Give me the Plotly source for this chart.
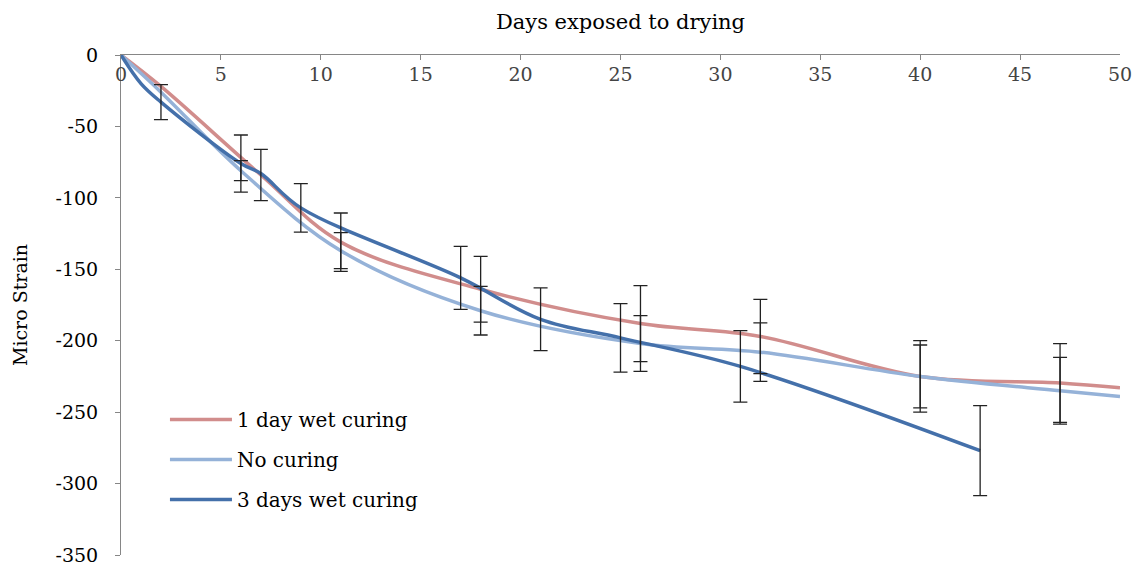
import plotly.graph_objects as go

# Shrinkage strain versus days of drying, for three curing regimes
days_1day = [0, 2, 7, 11, 18, 26, 32, 40, 47, 50]
strain_1day = [0, -22, -84, -131, -164, -188, -197, -225, -229.6, -233]
err_1day = [None, None, 18, 20.4, 23, 26.6, 26, 25, 27.6, None]

days_none = [0, 2, 6, 11, 18, 26, 32, 40, 47, 50]
strain_none = [0, -26, -81, -137, -179, -202, -208, -225, -235, -239]
err_none = [None, None, 7, 12.6, 17, 19.5, 20.5, 22, 23.4, None]

days_3day = [0, 1, 2, 6, 7, 9, 17, 21, 25, 31, 43]
strain_3day = [0, -20, -33, -76, -83, -107, -156, -185, -198, -218, -277]
err_3day = [None, None, 12.3, 20, None, 17, 22, 22, 24, 25, 31.5]

series = [
    ("1 day wet curing", days_1day, strain_1day, err_1day, "#D18D8C"),
    ("No curing", days_none, strain_none, err_none, "#95B2D8"),
    ("3 days wet curing", days_3day, strain_3day, err_3day, "#4470AA"),
]

x_ticks = list(range(0, 51, 5))
y_ticks = list(range(-350, 1, 50))

FONT = "DejaVu Serif"
AXIS_GREY = "#868686"

fig = go.Figure()

for name, xs, ys, _, color in series:
    fig.add_trace(go.Scatter(
        x=xs, y=ys, name=name, mode="lines",
        line=dict(color=color, width=3.5, shape="spline", smoothing=1.0),
        legendgroup=name, hoverinfo="skip",
    ))

# Error bars only where a standard deviation was recorded
for name, xs, ys, errs, _ in series:
    ex = [x for x, e in zip(xs, errs) if e is not None]
    ey = [y for y, e in zip(ys, errs) if e is not None]
    ee = [e for e in errs if e is not None]
    fig.add_trace(go.Scatter(
        x=ex, y=ey, mode="markers", showlegend=False, hoverinfo="skip",
        marker=dict(size=1, color="rgba(0,0,0,0)"),
        error_y=dict(type="data", array=ee, visible=True,
                     color="#222222", thickness=1.3, width=7),
    ))

fig.update_layout(
    width=1145, height=578,
    margin=dict(l=121, r=25, t=55, b=12),
    plot_bgcolor="white", paper_bgcolor="white",
    font=dict(family=FONT, color="black", size=19),
    showlegend=True,
    legend=dict(
        x=0.044, y=0.31, xanchor="left", yanchor="top",
        bgcolor="rgba(0,0,0,0)", font=dict(family=FONT, size=20),
        tracegroupgap=11, itemwidth=62,
    ),
)

fig.update_xaxes(
    range=[0, 50], side="top",
    tickmode="array", tickvals=x_ticks, ticktext=[str(v) for v in x_ticks],
    ticks="inside", ticklen=5, tickcolor=AXIS_GREY,
    ticklabelposition="inside", ticklabeloverflow="allow",
    ticklabelstandoff=9,
    tickfont=dict(family=FONT, size=19),
    showline=True, linecolor=AXIS_GREY, linewidth=1,
    showgrid=False, zeroline=False,
    title=dict(text="Days exposed to drying", font=dict(family=FONT, size=21), standoff=28),
)

fig.update_yaxes(
    range=[-350, 0],
    tickmode="array", tickvals=y_ticks, ticktext=[str(v) for v in y_ticks],
    ticks="outside", ticklen=5, tickcolor=AXIS_GREY,
    ticklabelstandoff=13,
    tickfont=dict(family=FONT, size=19),
    showline=True, linecolor=AXIS_GREY, linewidth=1,
    showgrid=False, zeroline=False,
    title=dict(text="Micro Strain", font=dict(family=FONT, size=19), standoff=22),
)

fig.write_html("out.html")
